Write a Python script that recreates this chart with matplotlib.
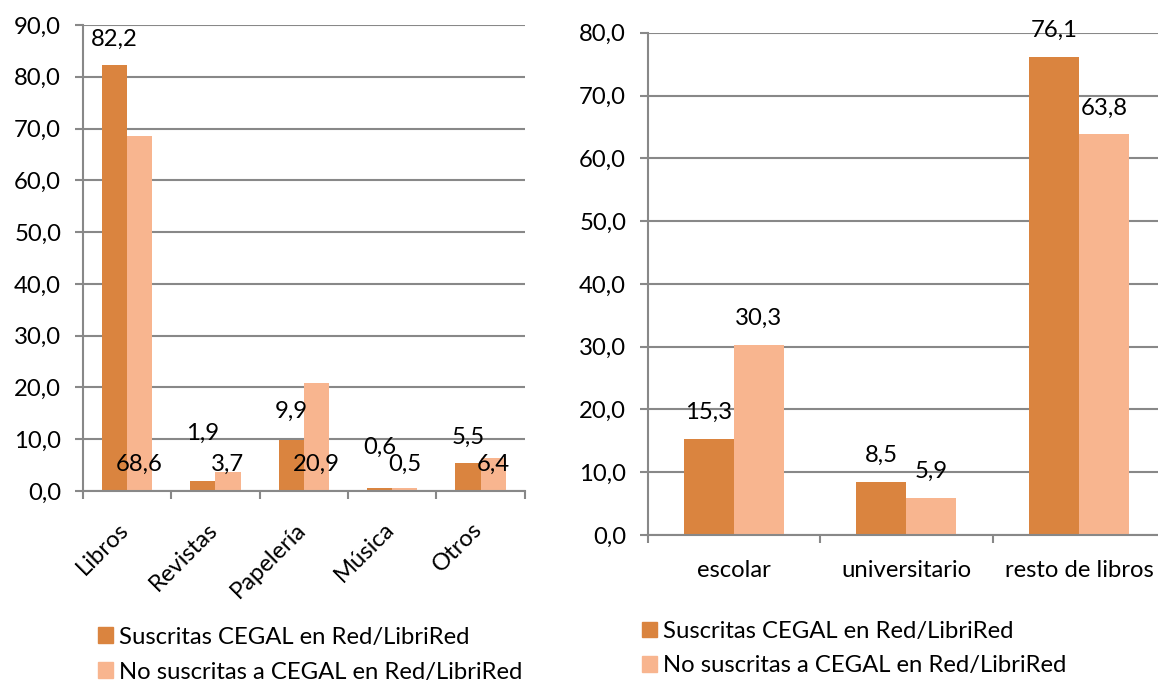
import matplotlib
matplotlib.use('Agg')
from matplotlib import pyplot as plt
from matplotlib.patches import Patch
from matplotlib.transforms import ScaledTranslation
import numpy as np

plt.rcParams['font.family'] = ['Lato', 'DejaVu Sans']

# left chart: sales by product type (%)
productos = ['Libros', 'Revistas', 'Papelería', 'Música', 'Otros']
suscritas_prod = [82.2, 1.9, 9.9, 0.6, 5.5]
no_suscritas_prod = [68.6, 3.7, 20.9, 0.5, 6.4]

# right chart: book sales by type (%)
tipos_libro = ['escolar', 'universitario', 'resto de libros']
suscritas_libro = [15.3, 8.5, 76.1]
no_suscritas_libro = [30.3, 5.9, 63.8]

serie_1 = 'Suscritas CEGAL en Red/LibriRed'
serie_2 = 'No suscritas a CEGAL en Red/LibriRed'

# label heights on the left chart were moved by hand in the original
label_y_1 = [87.2, 11.2, 15.3, 8.5, 10.4]
label_y_2 = [5.2, 5.2, 5.2, 5.2, 5.2]

dark = '#DA843F'
light = '#F8B58F'
grey = '#888888'
fs = 17.2


def fmt(v):
    return '{:.1f}'.format(v).replace('.', ',')


def style_axes(ax, n, ymax):
    ax.set_xlim(-0.5, n - 0.5)
    ax.set_ylim(0, ymax)
    ax.set_yticks(np.arange(0, ymax + 1, 10))
    ax.set_yticklabels([fmt(v) for v in np.arange(0, ymax + 1, 10)], fontsize=fs)
    ax.yaxis.grid(True, color=grey, linewidth=1.5)
    ax.set_axisbelow(True)
    for s in ['top', 'right']:
        ax.spines[s].set_visible(False)
    for s in ['left', 'bottom']:
        ax.spines[s].set_color(grey)
        ax.spines[s].set_linewidth(1.5)
    ax.tick_params(axis='y', length=5.5, width=1.5, color=grey, pad=10)
    ax.set_xticks(np.arange(-0.5, n, 1.0), minor=True)
    ax.tick_params(axis='x', which='minor', length=6, width=1.5, color=grey)
    ax.tick_params(axis='x', which='major', length=0)


fig = plt.figure(figsize=(11.58, 6.83), dpi=100)

# ---- left chart
ax1 = fig.add_axes([0.0714, 0.2811, 0.3819, 0.6823])
x = np.arange(len(productos))
w = 0.285
ax1.bar(x - w / 2, suscritas_prod, w, color=dark)
ax1.bar(x + w / 2, no_suscritas_prod, w, color=light)
style_axes(ax1, len(productos), 90)
ax1.set_xticks(x)
ax1.set_xticklabels(productos, fontsize=fs, rotation=45, ha='right',
                    rotation_mode='anchor')
ax1.tick_params(axis='x', which='major', pad=20)
shift = ScaledTranslation(-9 / 100, 0, fig.dpi_scale_trans)
for lab in ax1.get_xticklabels():
    lab.set_transform(lab.get_transform() + shift)
for i in range(len(productos)):
    ax1.text(x[i] - w / 2, label_y_1[i], fmt(suscritas_prod[i]),
             ha='center', va='center', fontsize=fs)
    ax1.text(x[i] + w / 2, label_y_2[i], fmt(no_suscritas_prod[i]),
             ha='center', va='center', fontsize=fs)

fig.legend(handles=[Patch(color=dark), Patch(color=light)],
           labels=[serie_1, serie_2], loc='upper left',
           bbox_to_anchor=(0.0846, 0.0825), frameon=False, fontsize=fs,
           borderpad=0, borderaxespad=0, handlelength=0.63,
           handleheight=0.63, handletextpad=0.27, labelspacing=0.58)

# ---- right chart
ax2 = fig.add_axes([0.5593, 0.2167, 0.4469, 0.7354])
x2 = np.arange(len(tipos_libro))
w2 = 0.29
ax2.bar(x2 - w2 / 2, suscritas_libro, w2, color=dark)
ax2.bar(x2 + w2 / 2, no_suscritas_libro, w2, color=light)
style_axes(ax2, len(tipos_libro), 80)
ax2.set_xticks(x2)
ax2.set_xticklabels(tipos_libro, fontsize=fs)
ax2.tick_params(axis='x', which='major', pad=18)
for i in range(len(tipos_libro)):
    ax2.annotate(fmt(suscritas_libro[i]), (x2[i] - w2 / 2, suscritas_libro[i]),
                 xytext=(0, 19), textcoords='offset points',
                 ha='center', va='center', fontsize=fs)
    ax2.annotate(fmt(no_suscritas_libro[i]), (x2[i] + w2 / 2, no_suscritas_libro[i]),
                 xytext=(0, 19), textcoords='offset points',
                 ha='center', va='center', fontsize=fs)

fig.legend(handles=[Patch(color=dark), Patch(color=light)],
           labels=[serie_1, serie_2], loc='upper left',
           bbox_to_anchor=(0.5544, 0.091), frameon=False, fontsize=fs,
           borderpad=0, borderaxespad=0, handlelength=0.63,
           handleheight=0.63, handletextpad=0.27, labelspacing=0.565)

plt.savefig('out.png', dpi=100)
